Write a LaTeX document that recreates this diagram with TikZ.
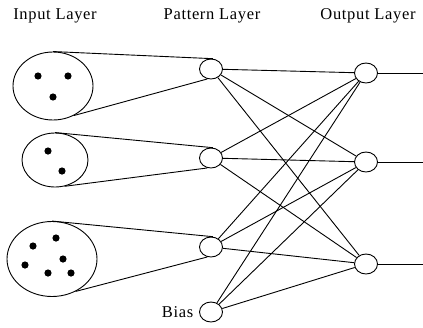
\documentclass[tikz,border=0pt]{standalone}
\usepackage{fontspec}
\setmainfont{Liberation Serif}[LetterSpace=4]
\usetikzlibrary{positioning, shapes.geometric, calc}

\begin{document}
\begin{tikzpicture}[x=1pt, y=-1pt, line width=0.9pt,
        unit/.style={draw, ellipse, minimum width=23pt, minimum height=20pt, inner sep=0pt},
        group/.style={draw, ellipse, inner sep=0pt},
        layer/.style={font=\fontsize{16.5}{18}\selectfont}]
            \useasboundingbox (0,0) rectangle (423,327);

            % layer titles
            \node[layer] (tin) at (55,16) {Input Layer};
            \node[layer] (tpat) at (212,16) {Pattern Layer};
            \node[layer] (tout) at (368,16) {Output Layer};

            % input groups
            \node[group, minimum width=80pt, minimum height=68pt] (in1) at (53,86) {};
            \node[group, minimum width=66pt, minimum height=54pt] (in2) at (55,160) {};
            \node[group, minimum width=90pt, minimum height=75pt] (in3) at (52,259) {};

            % pattern and output units
            \node[unit] (p1) at (211,69) {};
            \node[unit] (p2) at (211,158) {};
            \node[unit] (p3) at (211,247) {};
            \node[unit] (pb) at (211,312) {};
            \node[layer, left=2pt of pb] (tbias) {Bias};

            \node[unit] (o1) at (366,73) {};
            \node[unit] (o2) at (366,162) {};
            \node[unit] (o3) at (366,264) {};

            \coordinate (e1) at (423,73);
            \coordinate (e2) at (423,162);
            \coordinate (e3) at (423,264);

            % dots
            \foreach \x/\y in {38/76, 68/76, 53/97, 48/151, 62/171,
                               33/246, 56/238, 63/259, 25/265, 48/273, 71/273}{
                \fill[black] (\x,\y) circle (3.6pt);
            }

            % cones from groups to pattern units
            \draw (in1.north) -- (p1.80);
            \draw (in1.-55) -- (p1.-110);
            \draw (in2.north) -- (p2.80);
            \draw (in2.-70) -- (p2.-110);
            \draw (in3.north) -- (p3.80);
            \draw (in3.-54) -- (p3.-110);

            % pattern to output
            \foreach \p in {p1,p2,p3,pb}{
                \foreach \o in {o1,o2,o3}{
                    \draw (\p) -- (\o);
                }
            }

            % outputs
            \foreach \i in {1,2,3}{
                \draw (o\i) -- (e\i);
            }
        \end{tikzpicture}
\end{document}
